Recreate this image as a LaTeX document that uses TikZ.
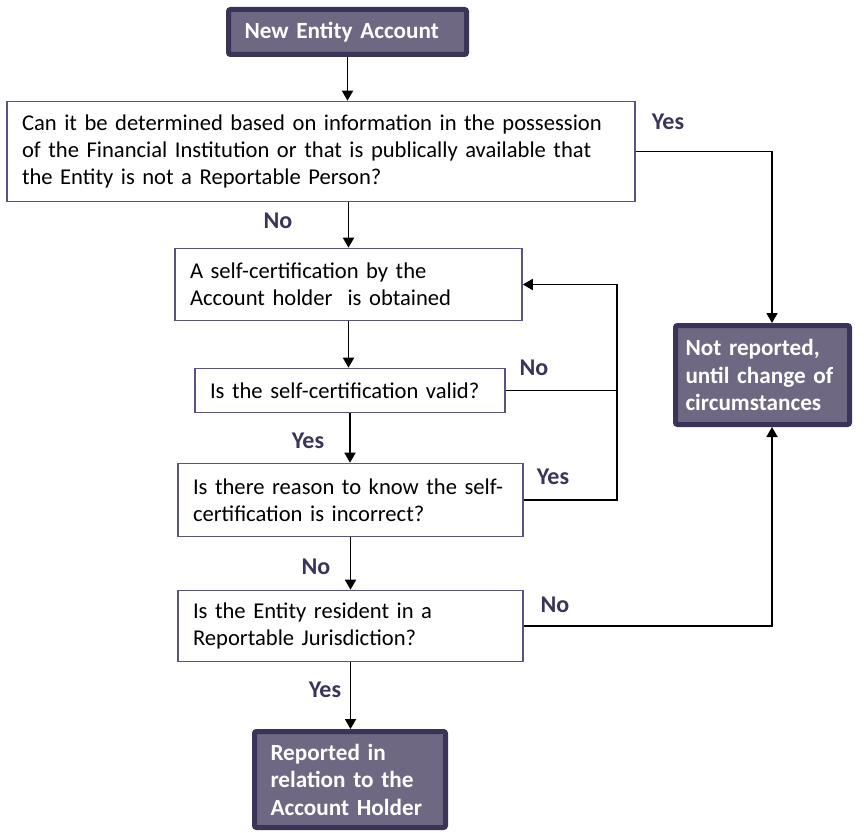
\documentclass[tikz,border=0pt]{standalone}
\usepackage{fontspec}
\setmainfont{Carlito}
\usetikzlibrary{arrows.meta}

\definecolor{boxfill}{HTML}{6E6883}
\definecolor{boxedge}{HTML}{3C3458}
\definecolor{qedge}{HTML}{5E5080}

\tikzset{
	question/.style={draw=qedge,line width=1.6pt,fill=white,align=left,inner xsep=15pt,inner ysep=0pt,font=\fontsize{22.6}{27}\selectfont},
	outcome/.style={draw=boxedge,line width=5pt,fill=boxfill,rounded corners=2pt,text=white,align=left,inner xsep=16pt,inner ysep=0pt,font=\bfseries\fontsize{23.2}{27.5}\selectfont},
	answer/.style={text=boxedge,font=\bfseries\fontsize{24}{28}\selectfont},
	flow/.style={line width=1.8pt,-{Triangle[length=10pt,width=11pt]}},
	joint/.style={line width=1.8pt}
}

\begin{document}
\begin{tikzpicture}[x=1pt,y=-1pt]
		\useasboundingbox (0,0) rectangle (864,832);
		% boxes
		\node[outcome,text width=206pt,minimum height=45pt] (new) at (347.5,32) {New Entity Account};
		\node[question,text width=598pt,minimum height=100pt] (q1) at (321,151.5) {Can it be determined based on information in the possession\\of the Financial Institution or that is publically available that\\the Entity is not a Reportable Person?};
		\node[question,text width=317pt,minimum height=72pt] (cert) at (348.5,284.5) {A self-certification by the\\Account holder\ \ is obtained};
		\node[question,text width=280pt,minimum height=44pt] (valid) at (350,390.5) {Is the self-certification valid?};
		\node[question,text width=315pt,minimum height=73pt] (reason) at (350.5,500) {Is there reason to know the self-\\certification is incorrect?};
		\node[question,text width=315pt,minimum height=71pt] (resident) at (350.5,626) {Is the Entity resident in a\\Reportable Jurisdiction?};
		\node[outcome,text width=154pt,inner xsep=10pt,minimum height=99pt] (notrep) at (762.5,375) {Not reported,\\until change of\\circumstances};
		\node[outcome,text width=159pt,minimum height=96pt] (rep) at (350,779.5) {Reported in\\relation to the\\Account Holder};
		% bends
		\coordinate (yesbend) at (772,151.5);
		\coordinate (loopx) at (617,0);
		% connectors
		\draw[flow] (new.south) -- (new.south |- q1.north);
		\draw[flow] (q1.south -| cert) -- (cert.north);
		\draw[flow] (cert.south) -- (cert.south |- valid.north);
		\draw[flow] (valid.south) -- (valid.south |- reason.north);
		\draw[flow] (reason.south) -- (reason.south |- resident.north);
		\draw[flow] (resident.south) -- (resident.south |- rep.north);
		\draw[flow] (q1.east) -- (yesbend) -- (yesbend |- notrep.north);
		\draw[flow] (resident.east) -- (resident.east -| yesbend) -- (yesbend |- notrep.south);
		\draw[joint] (valid.east) -- (valid.east -| loopx);
		\draw[flow] (reason.east) -- (reason.east -| loopx) -- (loopx |- cert.east) -- (cert.east);
		% answers
		\node[answer] (a1) at (668,122) {Yes};
		\node[answer] (a2) at (278,221) {No};
		\node[answer] (a3) at (534,368) {No};
		\node[answer] (a4) at (308,441) {Yes};
		\node[answer] (a5) at (553,477) {Yes};
		\node[answer] (a6) at (316,567) {No};
		\node[answer] (a7) at (555,605) {No};
		\node[answer] (a8) at (325,690) {Yes};
	\end{tikzpicture}
\end{document}
